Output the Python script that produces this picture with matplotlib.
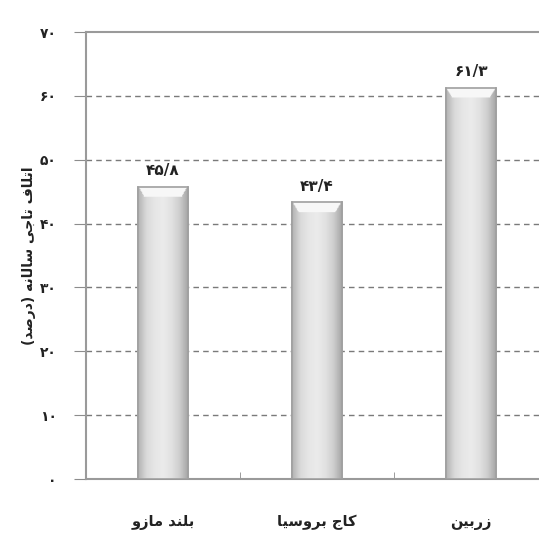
import numpy as np
import matplotlib.pyplot as plt
from matplotlib.colors import LinearSegmentedColormap

species = ['بلند مازو', 'کاج بروسیا', 'زربین']
loss = [45.8, 43.4, 61.3]
value_labels = ['۴۵/۸', '۴۳/۴', '۶۱/۳']
yticks = [0, 10, 20, 30, 40, 50, 60, 70]
ytick_labels = ['۰', '۱۰', '۲۰', '۳۰', '۴۰', '۵۰', '۶۰', '۷۰']
ylabel = 'اتلاف تاجی سالانه (درصد)'

# matplotlib has no arabic shaping, so pick presentation forms by hand
# (isolated, final, initial, medial); two entries = joins only to the right
FORMS = {
    'ا': ('\uFE8D', '\uFE8E'), 'ب': ('\uFE8F', '\uFE90', '\uFE91', '\uFE92'),
    'ت': ('\uFE95', '\uFE96', '\uFE97', '\uFE98'), 'ج': ('\uFE9D', '\uFE9E', '\uFE9F', '\uFEA0'),
    'د': ('\uFEA9', '\uFEAA'), 'ر': ('\uFEAD', '\uFEAE'), 'ز': ('\uFEAF', '\uFEB0'),
    'س': ('\uFEB1', '\uFEB2', '\uFEB3', '\uFEB4'), 'ص': ('\uFEB9', '\uFEBA', '\uFEBB', '\uFEBC'),
    'ف': ('\uFED1', '\uFED2', '\uFED3', '\uFED4'), 'ل': ('\uFEDD', '\uFEDE', '\uFEDF', '\uFEE0'),
    'م': ('\uFEE1', '\uFEE2', '\uFEE3', '\uFEE4'), 'ن': ('\uFEE5', '\uFEE6', '\uFEE7', '\uFEE8'),
    'ه': ('\uFEE9', '\uFEEA', '\uFEEB', '\uFEEC'), 'و': ('\uFEED', '\uFEEE'),
    'ک': ('\uFB8E', '\uFB8F', '\uFB90', '\uFB91'), 'ی': ('\uFBFC', '\uFBFD', '\uFBFE', '\uFBFF'),
}


def shape(text):
    out = []
    n = len(text)
    for i, ch in enumerate(text):
        if ch not in FORMS:
            out.append(ch)
            continue
        prev = text[i - 1] if i > 0 else ''
        nxt = text[i + 1] if i < n - 1 else ''
        join_prev = prev in FORMS and len(FORMS[prev]) == 4
        join_next = nxt in FORMS and len(FORMS[ch]) == 4
        f = FORMS[ch]
        if join_prev and join_next:
            out.append(f[3])
        elif join_prev:
            out.append(f[1])
        elif join_next:
            out.append(f[2])
        else:
            out.append(f[0])
    s = ''.join(out)[::-1]
    return s.translate(str.maketrans('()', ')('))


plt.rcParams['font.family'] = ['DejaVu Sans']
txt = '#222222'

fig = plt.figure(figsize=(5.39, 5.34), dpi=100)
ax = fig.add_axes([86 / 539, 55 / 534, 462 / 539, 447 / 534])

x = np.arange(len(species))
w = 0.32
bars = ax.bar(x, loss, width=w, color='#e0e0e0', edgecolor='#a0a0a0', linewidth=1.2, zorder=3)

# bevelled grey fill
cmap = LinearSegmentedColormap.from_list(
    'bev', ['#b4b4b4', '#dadada', '#e6e6e6', '#ebebeb', '#e2e2e2', '#cfcfcf', '#a8a8a8'])
u = np.linspace(0, 1, 60)
for xi, h in zip(x, loss):
    rows = 300
    grad = np.tile(u, (rows, 1))
    rgba = cmap(grad)
    top = 1.6 / h * rows
    for r in range(rows):
        d = rows - 1 - r
        if d < top:
            edge = (d / top) * 0.12
            mask = (u > edge) & (u < 1 - edge)
            rgba[r, mask, :3] = 0.97
    ax.imshow(rgba, extent=(xi - w / 2, xi + w / 2, 0, h), origin='lower',
              aspect='auto', zorder=3.5, interpolation='bilinear')
for b in bars:
    ax.add_patch(plt.Rectangle(b.get_xy(), b.get_width(), b.get_height(), fill=False,
                               edgecolor='#a0a0a0', linewidth=1.2, zorder=4))

for xi, h, lab in zip(x, loss, value_labels):
    ax.text(xi, h + 1.3, lab, ha='center', va='bottom', fontsize=11, fontweight='bold', color=txt)

ax.set_xlim(-0.5, 2.5)
ax.set_ylim(0, 70)
ax.set_yticks(yticks)
ax.set_yticklabels(ytick_labels, fontsize=10, fontweight='bold', color=txt)
ax.set_xticks(x)
ax.set_xticklabels([shape(s) for s in species], fontsize=10.5, fontweight='bold', color=txt)
ax.set_xticks([0.5, 1.5], minor=True)
ax.tick_params(axis='x', which='major', length=0, pad=26)
ax.tick_params(axis='x', which='minor', length=5, direction='in', color='#8c8c8c')
ax.tick_params(axis='y', length=9, direction='out', color='#8c8c8c', pad=12)
ax.set_ylabel(shape(ylabel), fontsize=10, fontweight='bold', color=txt, labelpad=3)

for v in yticks[1:-1]:
    ax.axhline(v, color='#7a7a7a', linestyle=(0, (4, 3)), linewidth=1.0, zorder=1)

for side in ['left', 'bottom', 'top']:
    ax.spines[side].set_color('#9a9a9a')
    ax.spines[side].set_linewidth(1.5)
ax.spines['right'].set_visible(False)

fig.savefig('out.png', dpi=100)
